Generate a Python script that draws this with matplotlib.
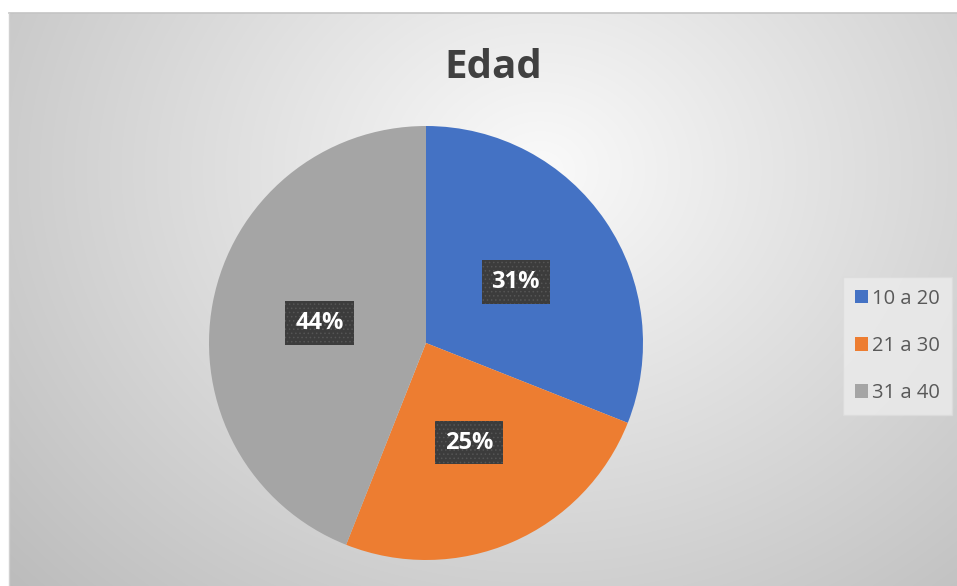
import matplotlib.pyplot as plt
import numpy as np

title = "Edad"
categories = ["10 a 20", "21 a 30", "31 a 40"]
shares = [31, 25, 44]
colors = ["#4472C4", "#ED7D31", "#A5A5A5"]

plt.rcParams["font.family"] = ["Open Sans", "DejaVu Sans"]

W, H = 957, 586
fig = plt.figure(figsize=(W / 100, H / 100), dpi=100)
fig.patch.set_facecolor("white")

# radial gradient background of the chart area
bg = fig.add_axes([0, 0, 1, 1])
bg.set_xlim(0, W)
bg.set_ylim(H, 0)
bg.axis("off")
x0, y0 = 9, 13
yy, xx = np.mgrid[y0:H, x0:W]
d = np.sqrt(((xx - 540) / 640) ** 2 + ((yy - 170) / 540) ** 2)
shade = np.clip(250 - 55 * d, 180, 250) / 255
rgb = np.dstack([shade, shade, shade])
bg.imshow(rgb, extent=(x0, W, H, y0), interpolation="bilinear", aspect="auto")
bg.plot([x0, W], [y0, y0], color="#c4c4c4", lw=1.2)
bg.plot([x0, x0], [y0, H], color="#d0d0d0", lw=1.0)

# pie
cx, cy, r = 426, 343, 217
ax = fig.add_axes([(cx - r) / W, (H - cy - r) / H, 2 * r / W, 2 * r / H])
wedges, _, pcts = ax.pie(
    shares,
    colors=colors,
    startangle=90,
    counterclock=False,
    autopct="%1.0f%%",
    pctdistance=0.5,
    radius=1,
)
ax.set_xlim(-1, 1)
ax.set_ylim(-1, 1)
ax.set_aspect("equal")

plt.rcParams["hatch.linewidth"] = 0.6
for t in pcts:
    t.set_color("white")
    t.set_fontsize(17)
    t.set_fontweight("bold")
    t.set_bbox(dict(boxstyle="square,pad=0.42", fc="#3c3c3c", ec="#555555",
                    hatch="....", lw=0))

fig.text(0.515, 0.885, title, ha="center", va="center", fontsize=29,
         fontweight="bold", color="#404040")

leg = fig.legend(
    wedges,
    categories,
    loc="center left",
    bbox_to_anchor=(843 / W, 1 - 346 / H),
    frameon=True,
    fontsize=14.5,
    handlelength=0.65,
    handleheight=0.65,
    handletextpad=0.2,
    labelspacing=1.35,
    borderpad=0.6,
    borderaxespad=0,
    fancybox=False,
)
leg.get_frame().set_facecolor("#ececec")
leg.get_frame().set_edgecolor("#dcdcdc")
leg.get_frame().set_alpha(0.8)
for t in leg.get_texts():
    t.set_color("#595959")

fig.savefig("out.png", dpi=100)
